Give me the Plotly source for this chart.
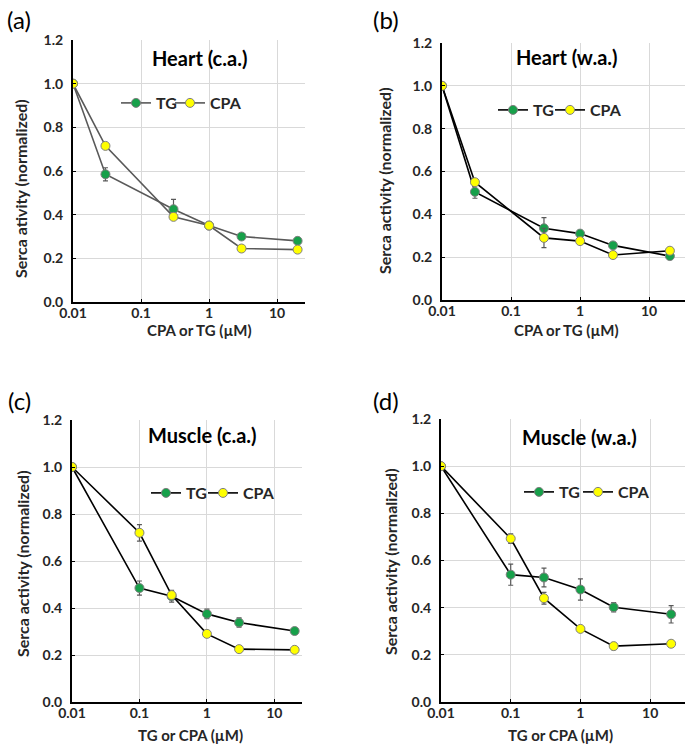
import plotly.graph_objects as go

# ---------------- data ----------------
x_heart = [0.01, 0.03, 0.3, 1, 3, 20]
x_muscle = [0.01, 0.1, 0.3, 1, 3, 20]

a_tg = [1.0, 0.585, 0.425, 0.35, 0.30, 0.28]
a_tg_err = [0, 0.03, 0.045, 0, 0, 0]
a_cpa = [1.0, 0.715, 0.39, 0.35, 0.245, 0.24]
a_cpa_err = [0, 0, 0, 0, 0, 0]

b_tg = [1.0, 0.505, 0.335, 0.31, 0.255, 0.205]
b_tg_err = [0, 0.03, 0.05, 0, 0, 0]
b_cpa = [1.0, 0.55, 0.29, 0.275, 0.21, 0.23]
b_cpa_err = [0, 0, 0.045, 0, 0, 0]

c_tg = [1.0, 0.485, 0.45, 0.375, 0.338, 0.302]
c_tg_err = [0, 0.03, 0.025, 0.02, 0.02, 0]
c_cpa = [1.0, 0.72, 0.455, 0.29, 0.225, 0.222]
c_cpa_err = [0, 0.035, 0, 0, 0, 0]

d_tg = [1.0, 0.54, 0.528, 0.477, 0.402, 0.372]
d_tg_err = [0, 0.045, 0.04, 0.045, 0.02, 0.037]
d_cpa = [1.0, 0.693, 0.44, 0.31, 0.237, 0.247]
d_cpa_err = [0, 0.02, 0.025, 0, 0.015, 0]

x_tickvals = [0.01, 0.1, 1, 10]
x_ticktext = ["0.01", "0.1", "1", "10"]
series_names = ["TG", "CPA"]

panels = [
    dict(x=x_heart, tg=a_tg, tge=a_tg_err, cpa=a_cpa, cpae=a_cpa_err, title="Heart (c.a.)", letter="(a)",
         xt="CPA or TG (µM)", yt="Serca ativity (normalized)", line="#595959"),
    dict(x=x_heart, tg=b_tg, tge=b_tg_err, cpa=b_cpa, cpae=b_cpa_err, title="Heart (w.a.)", letter="(b)",
         xt="CPA or TG (µM)", yt="Serca activity (normalized)", line="#000000"),
    dict(x=x_muscle, tg=c_tg, tge=c_tg_err, cpa=c_cpa, cpae=c_cpa_err, title="Muscle (c.a.)", letter="(c)",
         xt="TG or CPA (µM)", yt="Serca activity (normalized)", line="#000000"),
    dict(x=x_muscle, tg=d_tg, tge=d_tg_err, cpa=d_cpa, cpae=d_cpa_err, title="Muscle (w.a.)", letter="(d)",
         xt="TG or CPA (µM)", yt="Serca activity (normalized)", line="#000000"),
]

W, H = 685, 745
# pixel geometry: (left, right, top, bottom, xmax_log)
geo = [
    (73, 305, 40, 302, 1.41),
    (442, 685, 43, 300, 1.52),
    (72, 302, 420, 702, 1.41),
    (441, 685, 419, 702, 1.50),
]
# legend marker centres (TG, CPA) and row y
legend_marker_x = [(136, 190), (513, 570), (166, 223), (539, 598)]
legend_y = [103, 110, 493, 492]
title_pos = [(199, 58), (567, 57), (202, 435), (579, 437)]
letter_pos = [(19, 20), (386, 20), (19, 400), (386, 400)]
xtitle_pos = [(199, 330), (566, 330), (190, 735), (560, 735)]
ytitle_pos = [(20, 189), (385, 181), (22, 564), (390, 562)]

FONT = "Lato, 'Open Sans', sans-serif"
GREEN = "#17A04A"
YELLOW = "#FFFF00"
MK_LINE = "#7F7F7F"
TXT = "#262626"

fig = go.Figure()
layout = dict(width=W, height=H, margin=dict(l=0, r=0, t=0, b=0, autoexpand=False),
              paper_bgcolor="white", plot_bgcolor="white", showlegend=True,
              font=dict(family=FONT, color=TXT))
annotations = []
leg_idx = 0

for i, p in enumerate(panels):
    k = "" if i == 0 else str(i + 1)
    xa, ya = "x" + k, "y" + k
    l, r, t, b, xmax = geo[i]
    for j, (name, vals, errs, color) in enumerate(
            [("TG", p["tg"], p["tge"], GREEN), ("CPA", p["cpa"], p["cpae"], YELLOW)]):
        leg_idx += 1
        lg = "legend" if leg_idx == 1 else "legend" + str(leg_idx)
        fig.add_trace(go.Scatter(
            x=p["x"], y=vals, name=name, mode="lines+markers", xaxis=xa, yaxis=ya, legend=lg,
            line=dict(color=p["line"], width=1.6),
            marker=dict(color=color, size=9, line=dict(color=MK_LINE, width=1)),
            error_y=dict(type="data", array=errs, visible=True, color="#595959", thickness=1.2, width=2.5),
        ))
        mx = legend_marker_x[i][j]
        # plotly legend: marker centre sits 20 px right of the legend's left edge
        layout[lg] = dict(x=(mx - 20) / W, y=1 - legend_y[i] / H, xanchor="left", yanchor="middle",
                          orientation="h", bgcolor="rgba(0,0,0,0)", itemwidth=30,
                          font=dict(family=FONT, size=16, weight="bold", color=TXT))
    axis_common = dict(showline=True, linecolor="#000000", linewidth=2, gridcolor="#D9D9D9", gridwidth=1,
                       zeroline=False, ticks="inside", ticklen=3, tickcolor="#000000", automargin=False,
                       tickfont=dict(family=FONT, size=14, color=TXT, weight="bold"))
    layout["xaxis" + k] = dict(axis_common, type="log", range=[-2, xmax], domain=[l / W, r / W],
                               tickvals=x_tickvals, ticktext=x_ticktext, anchor=ya, ticklabelstandoff=-3)
    layout["yaxis" + k] = dict(axis_common, range=[0, 1.2], dtick=0.2, tickformat=".1f",
                               domain=[1 - b / H, 1 - t / H], anchor=xa, ticklabelstandoff=5)
    tx, ty = title_pos[i]
    annotations.append(dict(text=p["title"], x=tx / W, y=1 - ty / H, xref="paper", yref="paper",
                            showarrow=False, xanchor="center", yanchor="middle",
                            font=dict(family=FONT, size=20, weight="bold", color="#000000")))
    cx, cy = letter_pos[i]
    annotations.append(dict(text=p["letter"], x=cx / W, y=1 - cy / H, xref="paper", yref="paper",
                            showarrow=False, xanchor="center", yanchor="middle",
                            font=dict(family=FONT, size=24, color="#000000")))
    xc, xy = xtitle_pos[i]
    annotations.append(dict(text=p["xt"], x=xc / W, y=1 - xy / H, xref="paper", yref="paper",
                            showarrow=False, xanchor="center", yanchor="middle",
                            font=dict(family=FONT, size=15, weight="bold", color=TXT)))
    yx, yy = ytitle_pos[i]
    annotations.append(dict(text=p["yt"], x=yx / W, y=1 - yy / H, xref="paper", yref="paper",
                            showarrow=False, xanchor="center", yanchor="middle", textangle=-90,
                            font=dict(family=FONT, size=16, weight="bold", color=TXT)))

layout["annotations"] = annotations
fig.update_layout(**layout)
fig.write_html("out.html", config={"displayModeBar": False},
               post_script="document.body.style.margin='0';document.body.style.overflow='hidden';")
